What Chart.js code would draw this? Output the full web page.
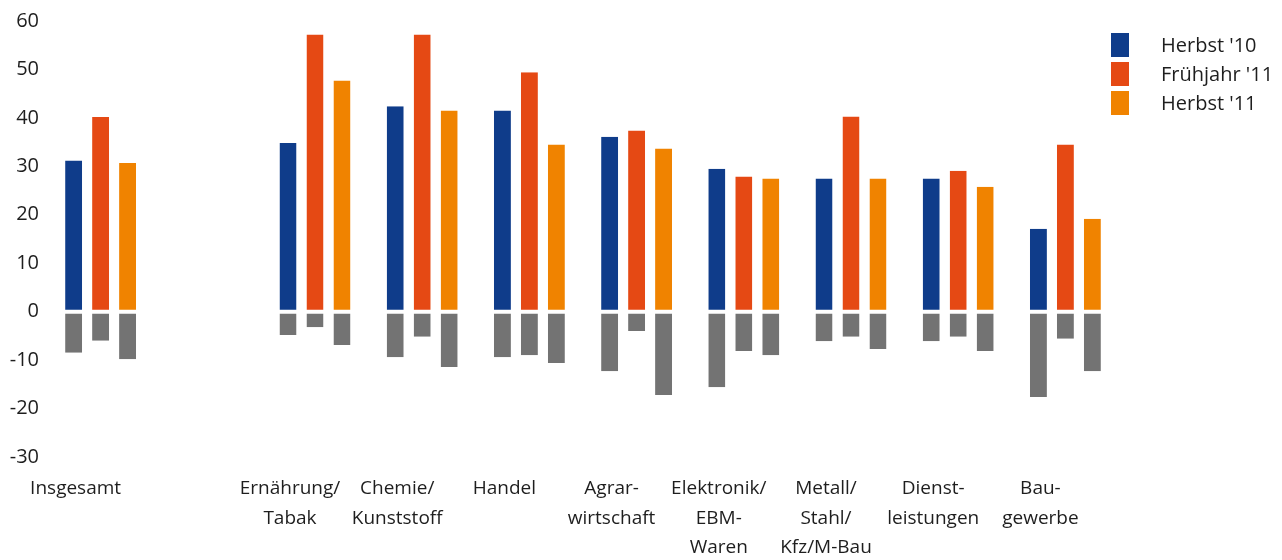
<!DOCTYPE html>
<html lang="de">
<head>
<meta charset="utf-8">
<title>Umfrage Branchen</title>
<script src="https://cdn.jsdelivr.net/npm/chart.js@4.4.1/dist/chart.umd.min.js"></script>
<style>
    html, body { margin: 0; padding: 0; background: #ffffff; }
    #wrap { width: 1282px; height: 560px; }
</style>
</head>
<body>
<div id="wrap"><canvas id="chartCanvas" width="1282" height="560"></canvas></div>
<script>
// === Daten ===
const categories = [
    ["Insgesamt"], "",
    ["Ernährung/", "Tabak"], ["Chemie/", "Kunststoff"], ["Handel"],
    ["Agrar-", "wirtschaft"], ["Elektronik/", "EBM-", "Waren"],
    ["Metall/", "Stahl/", "Kfz/M-Bau"], ["Dienst-", "leistungen"], ["Bau-", "gewerbe"]
];
const seriesLabels = ["Herbst '10", "Frühjahr '11", "Herbst '11"];

const herbst10   = [31.2, null, 34.8, 42.4, 41.5, 36.1, 29.5, 27.5, 27.5, 17.1];
const fruehjahr11 = [40.2, null, 57.2, 57.2, 49.4, 37.4, 27.9, 40.3, 29.1, 34.5];
const herbst11   = [30.7, null, 47.7, 41.5, 34.5, 33.7, 27.5, 27.5, 25.8, 19.2];

// negative Anteile (grau)
const herbst10Neg    = [-8.5, null, -4.8, -9.4, -9.4, -12.3, -15.6, -6.1, -6.1, -17.6];
const fruehjahr11Neg = [-6.0, null, -3.2, -5.2, -9.0, -4.0, -8.1, -5.2, -5.2, -5.6];
const herbst11Neg    = [-9.8, null, -6.9, -11.4, -10.6, -17.2, -9.0, -7.7, -8.1, -12.3];

const yTicks = { min: -30, max: 60, step: 10 };

const colors = ["#0f3c8a", "#e54914", "#f08300"];
const grey = "#737373";
const textColor = "#1e1e1e";
const fontName = "'Open Sans', 'Noto Sans', sans-serif";

// === Datensätze ===
function barSet(label, data, color, stack) {
    return {
        label,
        data,
        stack,
        backgroundColor: color,
        borderColor: "#ffffff",
        borderWidth: { top: 2, bottom: 2, left: 0, right: 0 },
        borderSkipped: "end",
        categoryPercentage: 0.755,
        barPercentage: 0.63
    };
}

const datasets = [
    barSet(seriesLabels[0], herbst10, colors[0], "s1"),
    barSet(seriesLabels[1], fruehjahr11, colors[1], "s2"),
    barSet(seriesLabels[2], herbst11, colors[2], "s3"),
    barSet("neg1", herbst10Neg, grey, "s1"),
    barSet("neg2", fruehjahr11Neg, grey, "s2"),
    barSet("neg3", herbst11Neg, grey, "s3")
];

// === Legende rechts oben ===
const sideLegend = {
    id: "sideLegend",
    afterDraw(chart) {
        const ctx = chart.ctx;
        const x = chart.chartArea.right - 8;
        let y = 33;
        ctx.save();
        ctx.font = "20px " + fontName;
        ctx.textBaseline = "middle";
        ctx.textAlign = "left";
        chart.data.datasets.slice(0, 3).forEach(ds => {
            ctx.fillStyle = ds.backgroundColor;
            ctx.fillRect(x, y, 18, 24);
            ctx.fillStyle = textColor;
            ctx.fillText(ds.label, x + 50, y + 13);
            y += 29;
        });
        ctx.restore();
    }
};

// === Diagramm ===
const ctx = document.getElementById("chartCanvas").getContext("2d");
window.chartInstance = new Chart(ctx, {
    type: "bar",
    data: { labels: categories, datasets },
    plugins: [sideLegend],
    options: {
        responsive: false,
        animation: false,
        devicePixelRatio: 1,
        layout: { padding: { top: 21, right: 163, bottom: 0, left: 0 } },
        plugins: {
            legend: { display: false },
            tooltip: { enabled: false }
        },
        scales: {
            x: {
                grid: { display: false, drawTicks: false },
                border: { display: false },
                ticks: {
                    autoSkip: false,
                    maxRotation: 0,
                    labelOffset: -25,
                    padding: 17,
                    color: textColor,
                    font: { family: fontName, size: 19, lineHeight: 1.55 }
                },
                afterFit: s => { s.height = 103; }
            },
            y: {
                min: yTicks.min,
                max: yTicks.max,
                grid: { display: false, drawTicks: false },
                border: { display: false },
                ticks: {
                    stepSize: yTicks.step,
                    padding: 8,
                    color: textColor,
                    font: { family: fontName, size: 20 }
                },
                afterFit: s => { s.width = 47; }
            }
        }
    }
});
</script>
</body>
</html>
